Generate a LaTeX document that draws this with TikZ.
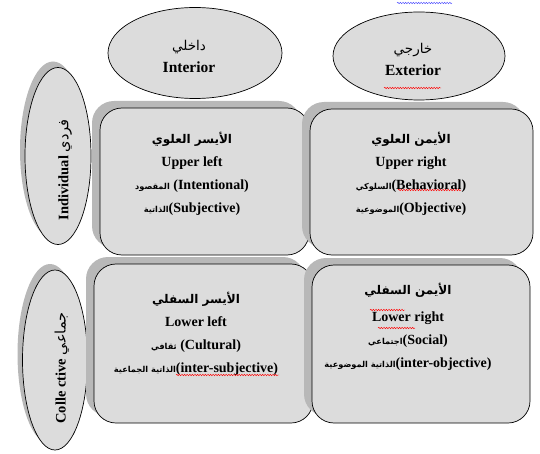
\documentclass[tikz,border=0pt]{standalone}
\usepackage{fontspec}
\setmainfont{Liberation Serif}
\newfontfamily\arabicfont[Script=Arabic]{DejaVu Sans}
\TeXXeTstate=1
\usetikzlibrary{shapes.geometric,shadows,decorations.pathmorphing}
\definecolor{quadFill}{HTML}{DCDCDC}
\definecolor{quadShade}{HTML}{B8B8B8}
\newcommand{\ar}[1]{{\arabicfont\fontsize{12}{23}\selectfont\beginR #1\endR}}
\newcommand{\arsm}[1]{{\arabicfont\fontsize{8.2}{23}\selectfont\beginR #1\endR}}

\begin{document}
\begin{tikzpicture}[x=1pt, y=-1pt,
  quad/.style={draw, line width=0.7pt, rounded corners=22pt, fill=quadFill, inner sep=0pt,
    drop shadow={shadow xshift=-8pt, shadow yshift=7pt, fill=quadShade, opacity=1}},
  side/.style={ellipse, draw, line width=0.7pt, fill=quadFill, inner sep=0pt,
    drop shadow={shadow xshift=-5pt, shadow yshift=6pt, fill=quadShade, opacity=1}},
  head/.style={ellipse, draw, line width=0.7pt, fill=quadFill, inner sep=0pt},
  label/.style={align=center, inner sep=0pt, font=\bfseries\fontsize{14}{23}\selectfont},
  squig/.style={line width=0.45pt, decorate,
    decoration={snake, amplitude=0.7pt, segment length=2.6pt}}]
\useasboundingbox (0,0) rectangle (540,454);
% ---------- side ellipses: individual / collective ----------
\node[side, minimum width=66pt, minimum height=177pt] (indiv) at (58,156) {};
\node[side, minimum width=65pt, minimum height=180pt] (collect) at (55,360) {};
\node[label, rotate=90, font=\bfseries\fontsize{14.5}{16}\selectfont] (indiv-txt)
  at ([xshift=7pt, yshift=-14pt]indiv.center) {Individual {\arabicfont\mdseries\beginR فردي\endR}};
\node[label, rotate=90, font=\bfseries\fontsize{14.5}{16}\selectfont] (collect-txt)
  at ([xshift=7pt, yshift=-8pt]collect.center) {Colle ctive {\arabicfont\mdseries\beginR جماعي\endR}};
% ---------- the four quadrants ----------
\node[quad, minimum width=209pt, minimum height=147pt] (ul) at (204.5,181.5) {};
\node[quad, minimum width=223pt, minimum height=146pt] (ur) at (421.5,182) {};
\node[quad, minimum width=219pt, minimum height=159pt] (ll) at (203.5,343.5) {};
\node[quad, minimum width=218pt, minimum height=158pt] (lr) at (421,344) {};
\node[label] (ul-txt) at (192,174)
  {\ar{الأيسر العلوي}\\ Upper left\\ \arsm{المقصود} (Intentional)\\ \arsm{الذاتية}(Subjective)};
\node[label] (ur-txt) at (411,174)
  {\ar{الأيمن العلوي}\\ Upper right\\ \arsm{السلوكي}(Behavioral)\\ \arsm{الموضوعية}(Objective)};
\node[label] (ll-txt) at (196,334)
  {\ar{الأيسر السفلي}\\ Lower left\\ \arsm{ثقافي} (Cultural)\\ \arsm{الذاتية الجماعية}(inter-subjective)};
\node[label] (lr-txt) at (408,327)
  {\ar{الأيمن السفلي}\\[4pt] Lower right\\ \arsm{اجتماعي}(Social)\\ \arsm{الذاتية الموضوعية}(inter-objective)};
% ---------- top ellipses: interior / exterior ----------
\node[head, minimum width=174pt, minimum height=91pt] (interior) at (195,53) {};
\node[head, minimum width=172pt, minimum height=88pt] (exterior) at (419,56) {};
\node[label, font=\bfseries\fontsize{15.5}{22}\selectfont] (interior-txt)
  at ([xshift=-6pt, yshift=-3pt]interior.center) {{\arabicfont\mdseries\fontsize{13.5}{22}\selectfont\beginR داخلي\endR}\\ Interior};
\node[label, font=\bfseries\fontsize{15.5}{22}\selectfont] (exterior-txt)
  at ([xshift=-6pt, yshift=-3pt]exterior.center) {{\arabicfont\mdseries\fontsize{13.5}{22}\selectfont\beginR خارجي\endR}\\ Exterior};
% spell-check marks
\draw[squig, blue!70] (397,3) -- (452,3);
\draw[squig, red] (384,88) -- (441,88);
\draw[squig, red] (398,190) -- (461,190);
\draw[squig, red] (176,375) -- (279,375);
\draw[squig, red] (370,310) -- (405,310);
\draw[squig, red] (378,328) -- (415,328);
\end{tikzpicture}
\end{document}
